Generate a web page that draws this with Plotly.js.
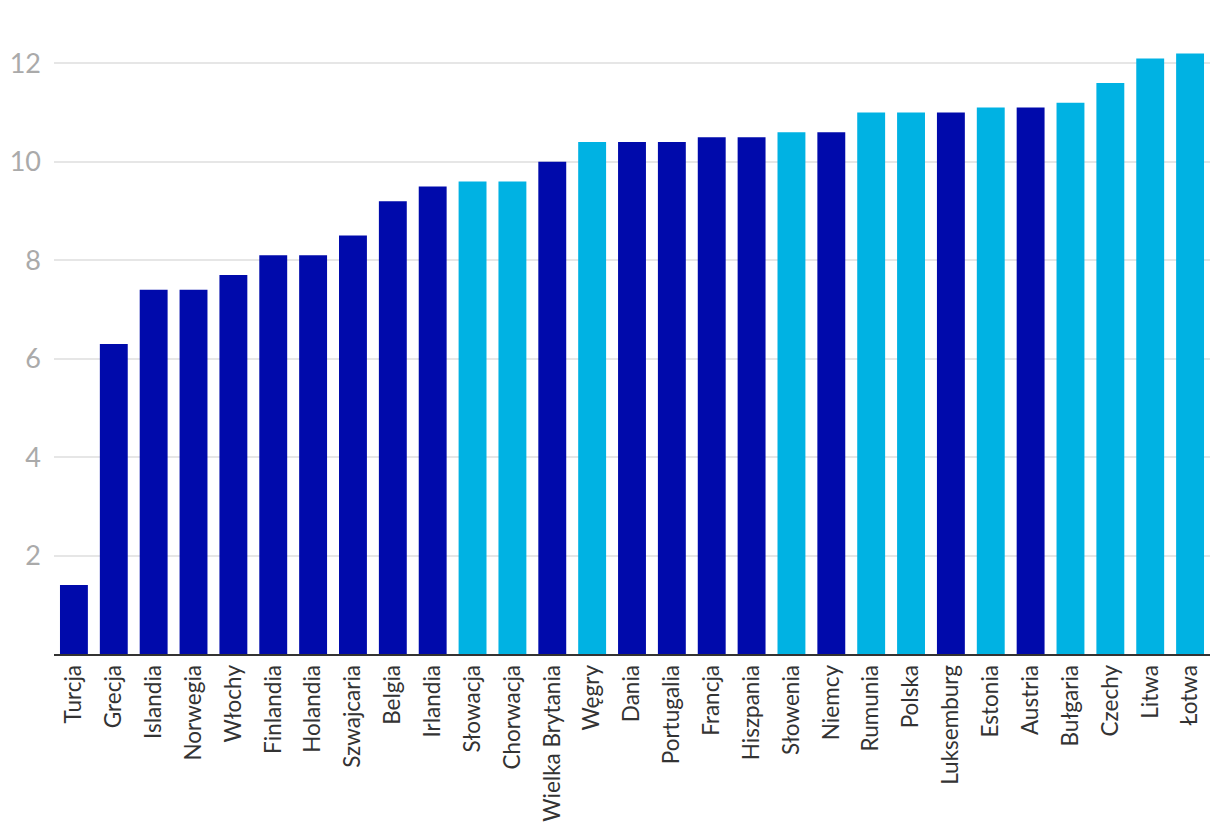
<!DOCTYPE html>
<html>
<head>
<meta charset="utf-8">
<script src="https://cdn.plot.ly/plotly-3.0.1.min.js"></script>
<style>html,body{margin:0;padding:0;background:#fff;}#chart{width:1220px;height:838px;}</style>
</head>
<body>
<div id="chart"></div>
<script>
const categories = ["Turcja","Grecja","Islandia","Norwegia","Włochy","Finlandia","Holandia","Szwajcaria","Belgia","Irlandia","Słowacja","Chorwacja","Wielka Brytania","Węgry","Dania","Portugalia","Francja","Hiszpania","Słowenia","Niemcy","Rumunia","Polska","Luksemburg","Estonia","Austria","Bułgaria","Czechy","Litwa","Łotwa"];
const values = [1.4,6.3,7.4,7.4,7.7,8.1,8.1,8.5,9.2,9.5,9.6,9.6,10.0,10.4,10.4,10.4,10.5,10.5,10.6,10.6,11.0,11.0,11.0,11.1,11.1,11.2,11.6,12.1,12.2];
const groups = ["d","d","d","d","d","d","d","d","d","d","l","l","d","l","d","d","d","d","l","d","l","l","d","l","d","l","l","l","l"];
const tickVals = [2,4,6,8,10,12];

const colorMap = {d: "#000aab", l: "#00b2e3"};
const trace = {
  type: "bar",
  x: categories,
  y: values,
  marker: {color: groups.map(g => colorMap[g])},
  hoverinfo: "x+y"
};
const layout = {
  width: 1220, height: 838,
  margin: {l: 54, r: 10, t: 20, b: 184},
  paper_bgcolor: "#fff", plot_bgcolor: "#fff",
  bargap: 0.3,
  showlegend: false,
  font: {family: "Lato, 'Open Sans', sans-serif"},
  xaxis: {
    type: "category",
    tickangle: -90,
    tickfont: {size: 22.5, color: "#333"},
    showline: true, linecolor: "#333", linewidth: 2,
    ticks: "", showgrid: false, automargin: false
  },
  yaxis: {
    range: [0, 12.88],
    tickvals: tickVals,
    ticktext: tickVals.map(String),
    tickfont: {size: 27, color: "#aaa"},
    showgrid: true, gridcolor: "#e6e6e6", gridwidth: 2,
    zeroline: false, showline: false, ticks: "", ticklabelstandoff: 12,
    automargin: false
  }
};
Plotly.newPlot("chart", [trace], layout, {displayModeBar: false, staticPlot: true});
</script>
</body>
</html>
